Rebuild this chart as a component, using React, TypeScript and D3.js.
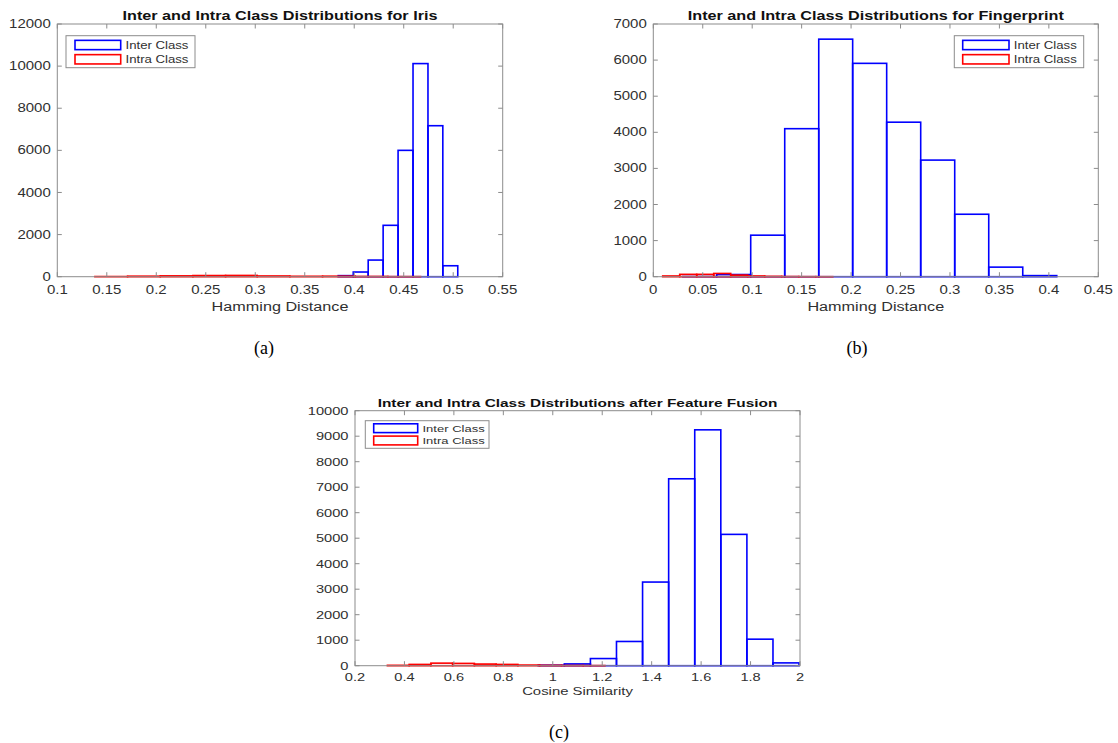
import React from 'react';
import * as d3 from 'd3';

// ---- data ----

// (a) Iris
const irisInterEdges = [0.3838, 0.399, 0.4141, 0.4292, 0.4443, 0.4594, 0.4745, 0.4895, 0.5046];
const irisInterCounts = [50, 222, 790, 2440, 6000, 10120, 7170, 520];
const irisIntraEdges = [0.138, 0.171, 0.204, 0.237, 0.27, 0.302, 0.335, 0.368, 0.401, 0.434, 0.467];
const irisIntraCounts = [8, 25, 40, 55, 60, 35, 20, 25, 12, 5];
const irisXTicks = [0.1, 0.15, 0.2, 0.25, 0.3, 0.35, 0.4, 0.45, 0.5, 0.55];
const irisYTicks = [0, 2000, 4000, 6000, 8000, 10000, 12000];

// (b) Fingerprint
const fingerInterEdges = [0.0297, 0.0641, 0.0985, 0.1329, 0.1673, 0.2016, 0.236, 0.2704, 0.3048, 0.3392, 0.3736, 0.408];
const fingerInterCounts = [5, 60, 1150, 4100, 6580, 5910, 4280, 3230, 1730, 265, 30];
const fingerIntraEdges = [0.0095, 0.0267, 0.0439, 0.0611, 0.0783, 0.0955, 0.1127, 0.1299, 0.1471, 0.1643, 0.1815];
const fingerIntraCounts = [20, 65, 65, 90, 45, 20, 10, 5, 2, 1];
const fingerXTicks = [0, 0.05, 0.1, 0.15, 0.2, 0.25, 0.3, 0.35, 0.4, 0.45];
const fingerYTicks = [0, 1000, 2000, 3000, 4000, 5000, 6000, 7000];

// (c) fusion
const fusionInterEdges = [0.9412, 1.0467, 1.1522, 1.2577, 1.3632, 1.4687, 1.5742, 1.6797, 1.7852, 1.8907, 1.9962];
const fusionInterCounts = [20, 70, 280, 950, 3280, 7330, 9250, 5150, 1040, 110];
const fusionIntraEdges = [0.331, 0.419, 0.507, 0.595, 0.683, 0.771, 0.859, 0.947, 1.035, 1.123, 1.211];
const fusionIntraCounts = [15, 50, 100, 90, 65, 50, 25, 15, 10, 5];
const fusionXTicks = [0.2, 0.4, 0.6, 0.8, 1, 1.2, 1.4, 1.6, 1.8, 2];
const fusionYTicks = [0, 1000, 2000, 3000, 4000, 5000, 6000, 7000, 8000, 9000, 10000];

const legendNames = ['Inter Class', 'Intra Class'];

const SANS = '"Liberation Sans", Arial, Helvetica, sans-serif';
const AXIS = '#8c8c8c';
const INK = '#303030';
const BLUE = '#0000ff';
const RED = '#ff0000';

const fmt = d3.format('~g');

// text squeezed like the source bitmap (wider than tall)
function SText({ x, y, size, sx, anchor = 'middle', weight = 'normal', fill = INK, children }: any) {
  return (
    <text
      transform={`translate(${x},${y}) scale(${sx},1)`}
      fontSize={size}
      fontWeight={weight}
      fontFamily={SANS}
      textAnchor={anchor}
      dominantBaseline="central"
      fill={fill}
    >
      {children}
    </text>
  );
}

function Panel(props: any) {
  const { left, right, top, bottom, xDomain, yMax, xTicks, yTicks, title, xLabel,
    inter, intra, legend, sx, fs } = props;

  const x = d3.scaleLinear().domain(xDomain).range([left, right]);
  const y = d3.scaleLinear().domain([0, yMax]).range([bottom, top]);
  const tk = 4.5;

  const bars = (edges: number[], counts: number[], color: string) =>
    counts.map((c, i) => (
      <rect
        key={color + i}
        x={x(edges[i])}
        y={y(c)}
        width={x(edges[i + 1]) - x(edges[i])}
        height={y(0) - y(c)}
        fill="none"
        stroke={color}
        strokeWidth={1.6}
      />
    ));

  return (
    <g>
      {/* bars */}
      {bars(inter.edges, inter.counts, BLUE)}
      {bars(intra.edges, intra.counts, RED)}

      {/* axes box */}
      <rect x={left} y={top} width={right - left} height={bottom - top} fill="none" stroke={AXIS} strokeWidth={1} />
      {xTicks.map((t: number) => (
        <g key={'xt' + t}>
          <line x1={x(t)} x2={x(t)} y1={bottom} y2={bottom - tk} stroke={AXIS} />
          <line x1={x(t)} x2={x(t)} y1={top} y2={top + tk} stroke={AXIS} />
          <SText x={x(t)} y={bottom + fs.tickDy} size={fs.tick} sx={sx}>{fmt(t)}</SText>
        </g>
      ))}
      {yTicks.map((t: number) => (
        <g key={'yt' + t}>
          <line x1={left} x2={left + tk} y1={y(t)} y2={y(t)} stroke={AXIS} />
          <line x1={right} x2={right - tk} y1={y(t)} y2={y(t)} stroke={AXIS} />
          <SText x={left - 6.5} y={y(t)} size={fs.tick} sx={sx} anchor="end">{fmt(t)}</SText>
        </g>
      ))}

      {/* title and x label */}
      <SText x={(left + right) / 2} y={top - fs.titleDy} size={fs.title} sx={sx} weight="bold" fill="#111">{title}</SText>
      <SText x={(left + right) / 2} y={bottom + fs.labelDy} size={fs.label} sx={sx}>{xLabel}</SText>

      {/* legend */}
      <g>
        <rect x={legend.x} y={legend.y} width={legend.w} height={legend.h} fill="#fff" stroke={AXIS} strokeWidth={1} />
        {legendNames.map((name, i) => {
          const cy = legend.y + legend.row0 + i * legend.rowGap;
          return (
            <g key={name}>
              <rect x={legend.x + legend.sw0} y={cy - legend.sh / 2} width={legend.sw} height={legend.sh}
                fill="none" stroke={i === 0 ? BLUE : RED} strokeWidth={1.6} />
              <SText x={legend.x + legend.sw0 + legend.sw + 4.8} y={cy} size={fs.legend} sx={sx} anchor="start">{name}</SText>
            </g>
          );
        })}
      </g>
    </g>
  );
}

export default function App() {
  const fsTop = { tick: 12.5, title: 13.5, label: 13.5, legend: 11, tickDy: 13.5, labelDy: 30, titleDy: 9 };
  const fsBot = { tick: 11, title: 11.6, label: 11.2, legend: 9.8, tickDy: 11, labelDy: 25, titleDy: 8 };
  const caption = (label: string, cx: number, cy: number) => (
    <text x={cx} y={cy} textAnchor="middle" dominantBaseline="central"
      fontFamily='"Liberation Serif", "Times New Roman", serif' fontSize={18} fill="#000">{label}</text>
  );

  return (
    <svg width={1118} height={743} style={{ position: 'absolute', left: 0, top: 0, background: '#fff' }}>
      <Panel
        left={57.3} right={502.7} top={24} bottom={276.7}
        xDomain={[0.1, 0.55]} yMax={12000}
        xTicks={irisXTicks} yTicks={irisYTicks}
        title="Inter and Intra Class Distributions for Iris" xLabel="Hamming Distance"
        inter={{ edges: irisInterEdges, counts: irisInterCounts }}
        intra={{ edges: irisIntraEdges, counts: irisIntraCounts }}
        legend={{ x: 66, y: 35.7, w: 129, h: 32, sw0: 9, sw: 45.7, sh: 9.3, row0: 9.3, rowGap: 14.3 }}
        sx={1.2} fs={fsTop}
      />
      <Panel
        left={653.3} right={1098.3} top={24} bottom={276.7}
        xDomain={[0, 0.45]} yMax={7000}
        xTicks={fingerXTicks} yTicks={fingerYTicks}
        title="Inter and Intra Class Distributions for Fingerprint" xLabel="Hamming Distance"
        inter={{ edges: fingerInterEdges, counts: fingerInterCounts }}
        intra={{ edges: fingerIntraEdges, counts: fingerIntraCounts }}
        legend={{ x: 954.3, y: 35.7, w: 129.4, h: 32, sw0: 8.4, sw: 46.3, sh: 9.3, row0: 9.3, rowGap: 14.3 }}
        sx={1.2} fs={fsTop}
      />
      <Panel
        left={355} right={800} top={410.7} bottom={665.7}
        xDomain={[0.2, 2]} yMax={10000}
        xTicks={fusionXTicks} yTicks={fusionYTicks}
        title="Inter and Intra Class Distributions after Feature Fusion" xLabel="Cosine Similarity"
        inter={{ edges: fusionInterEdges, counts: fusionInterCounts }}
        intra={{ edges: fusionIntraEdges, counts: fusionIntraCounts }}
        legend={{ x: 365.3, y: 420.7, w: 123.7, h: 27.6, sw0: 8.4, sw: 44, sh: 8.8, row0: 7.5, rowGap: 12.3 }}
        sx={1.33} fs={fsBot}
      />
      {caption('(a)', 264, 348)}
      {caption('(b)', 857, 348)}
      {caption('(c)', 559, 732)}
    </svg>
  );
}
